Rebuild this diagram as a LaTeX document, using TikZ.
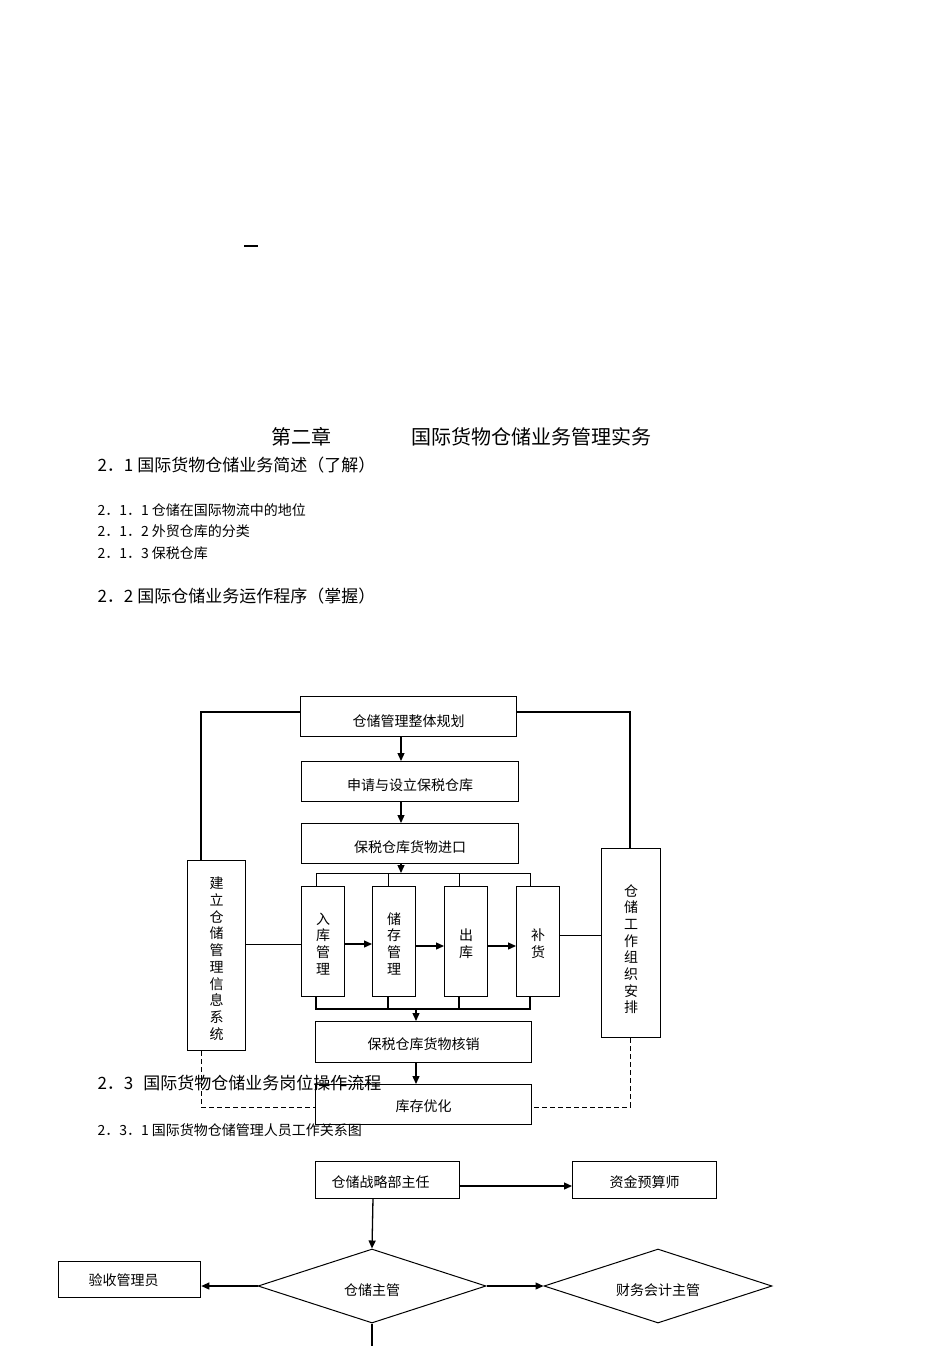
\documentclass[tikz,border=0pt]{standalone}
\usepackage{fontspec}
\setmainfont{Noto Sans CJK SC}
\usetikzlibrary{shapes.geometric,arrows.meta}
\begin{document}
\begin{tikzpicture}[x=1pt,y=-1pt,
  bx/.style={draw,line width=1.3pt,inner sep=0pt,anchor=north west},
  arr/.style={line width=1.3pt,-{Triangle[length=8pt,width=7pt]}},
  ln/.style={line width=1.3pt},
  dsh/.style={line width=1pt,dash pattern=on 5pt off 3pt},
  bt/.style={font=\fontsize{14}{16}\selectfont},
  vt/.style={align=center,font=\fontsize{14}{16.7}\selectfont},
  dia/.style={draw,line width=1pt,diamond,aspect=3.08,inner sep=0pt,minimum width=228pt,minimum height=74pt,font=\fontsize{14}{16}\selectfont}]
\useasboundingbox (0,0) rectangle (950,1346);
\node[anchor=center] (dash) at (251,246) {\rule{14pt}{1.8pt}};
\node[anchor=west,font=\fontsize{20}{22}\selectfont] (t0) at (268,437) {第二章\hspace{80pt}国际货物仓储业务管理实务};
\tikzset{h/.style={anchor=west,font=\fontsize{17}{19}\selectfont},s/.style={anchor=west,font=\fontsize{14}{16}\selectfont}}
\node[h] (t1) at (94,465) {2．1\hspace{4pt}国际货物仓储业务简述（了解）};
\node[s] (t2) at (94,510) {2．1．1 仓储在国际物流中的地位};
\node[s] (t3) at (94,531) {2．1．2 外贸仓库的分类};
\node[s] (t4) at (94,553) {2．1．3 保税仓库};
\node[h] (t5) at (94,596) {2．2\hspace{4pt}国际仓储业务运作程序（掌握）};
% flowchart 1
\node[bx,minimum width=216pt,minimum height=40pt] (a) at (300,696) {};
\node[bt] at ([yshift=-4pt]a.center) {仓储管理整体规划};
\node[bx,minimum width=217pt,minimum height=40pt] (b) at (301,761) {};
\node[bt] at ([yshift=-4pt]b.center) {申请与设立保税仓库};
\node[bx,minimum width=217pt,minimum height=40pt] (c) at (301,823) {};
\node[bt] at ([yshift=-4pt]c.center) {保税仓库货物进口};
\foreach \n/\x/\t in {v1/301/{入\\库\\管\\理},v2/372/{储\\存\\管\\理},v3/444/{出\\库},v4/516/{补\\货}}{
  \node[bx,minimum width=43pt,minimum height=110pt] (\n) at (\x,886) {};
  \node[vt] at ([yshift=-2pt]\n.center) {\t};
}
\node[bx,minimum width=216pt,minimum height=41pt] (d) at (315,1021) {};
\node[bt] at ([yshift=-2pt]d.center) {保税仓库货物核销};
\node[bx,minimum width=216pt,minimum height=40pt] (e) at (315,1084) {};
\node[bt] at ([yshift=-2pt]e.center) {库存优化};
\node[bx,minimum width=58pt,minimum height=190pt] (L) at (187,860) {};
\node[vt] at ([yshift=-3pt]L.center) {建\\立\\仓\\储\\管\\理\\信\\息\\系\\统};
\node[bx,minimum width=59pt,minimum height=189pt] (R) at (601,848) {};
\node[vt] at ([yshift=-6pt]R.center) {仓\\储\\工\\作\\组\\织\\安\\排};
\coordinate (bt) at (401,873);
\coordinate (bb) at (416,1009);
\draw[arr] (401,736) -- (401,761);
\draw[arr] (401,801) -- (401,823);
\draw[arr] (401,863) -- (bt);
\draw[line width=0.9pt] (316,886) |- (530,873) -- (530,886);
\foreach \x in {388,459} \draw[line width=0.9pt] (\x,873) -- (\x,886);
\draw[ln] (316,996) |- (530,1009) -- (530,996);
\foreach \x in {388,459} \draw[ln] (\x,996) -- (\x,1009);
\draw[arr] (bb) -- (d.north -| bb);
\draw[arr] (d.south -| bb) -- (e.north -| bb);
\draw[arr] (v1.east |- 0,944) -- (v2.west |- 0,944);
\draw[arr] (v2.east |- 0,946) -- (v3.west |- 0,946);
\draw[arr] (v3.east |- 0,946) -- (v4.west |- 0,946);
\draw[ln] (a.west |- 0,712) -| (L.north -| 201,0);
\draw[ln] (a.east |- 0,712) -| (R.north -| 630,0);
\draw[line width=0.7pt] (L.east |- 0,944) -- (v1.west |- 0,944);
\draw[line width=0.7pt] (v4.east |- 0,935) -- (R.west |- 0,935);
\draw[dsh] (L.south -| 201,0) |- (e.west |- 0,1107);
\draw[dsh] (R.south -| 630,0) |- (e.east |- 0,1107);
\node[h] (t6) at (94,1083) {2．3\hspace{10pt}国际货物仓储业务岗位操作流程};
\node[s] (t7) at (94,1130) {2．3．1 国际货物仓储管理人员工作关系图};
% flowchart 2
\node[bx,minimum width=144pt,minimum height=37pt] (p) at (315,1161) {};
\node[bt] at ([xshift=-7pt,yshift=-2pt]p.center) {仓储战略部主任};
\node[bx,minimum width=144pt,minimum height=37pt] (q) at (572,1161) {};
\node[bt] at ([yshift=-2pt]q.center) {资金预算师};
\node[bx,minimum width=142pt,minimum height=36pt] (r) at (58,1261) {};
\node[bt] at ([xshift=-6pt]r.center) {验收管理员};
\node[dia] (m) at (372,1286) {};
\node[bt] at ([yshift=-4pt]m.center) {仓储主管};
\node[dia] (f) at (658,1286) {};
\node[bt] at ([yshift=-4pt]f.center) {财务会计主管};
\draw[arr] (p.east |- 0,1186) -- (q.west |- 0,1186);
\draw[arr] (373,1198) -- (m.north);
\draw[arr] (m.west) -- (r.east |- m.west);
\draw[arr] (m.east) -- (f.west);
\draw[ln] (m.south) -- (372,1346);
\end{tikzpicture}
\end{document}
